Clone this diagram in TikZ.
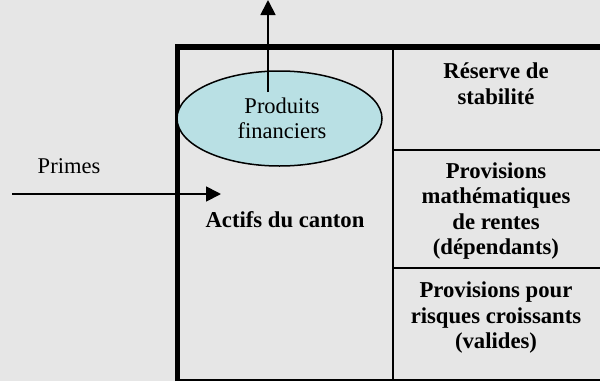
\documentclass[tikz,border=0pt]{standalone}
\usepackage{fontspec}
\setmainfont{Liberation Serif}
\usetikzlibrary{arrows.meta,shapes.geometric}
\definecolor{bgc}{HTML}{E6E6E6}
\definecolor{ellc}{HTML}{B9E0E4}
\tikzset{
  lbl/.style={align=center,font=\fontsize{22.7}{25.5}\selectfont\bfseries,inner sep=0pt},
  plain/.style={align=center,font=\fontsize{22.5}{25.5}\selectfont,inner sep=0pt},
  thickframe/.style={line width=5.5pt},
  thinline/.style={line width=2.2pt},
  flow/.style={line width=1.8pt,-{Triangle[width=15pt,length=15pt]}}
}
\begin{document}
\begin{tikzpicture}[x=1pt,y=-1pt]
\useasboundingbox (0,0) rectangle (600,381);
\fill[bgc] (0,0) rectangle (600,381);
% frame
\draw[thickframe] (177.5,381) -- (177.5,46.8) -- (600,46.8);
\draw[thinline] (177.5,380) -- (600,380);
\draw[thinline] (393,49) -- (393,381);
\draw[thinline] (393,150) -- (600,150);
\draw[thinline] (393,268) -- (600,268);
% ellipse
\node[ellipse,draw,line width=1.5pt,fill=ellc,minimum width=205pt,minimum height=95pt,inner sep=0pt] (pf) at (279.5,118.5) {};
\node[plain] (pft) at (282,118.5) {Produits\\financiers};
% arrows
\coordinate (upS) at (268,92);
\coordinate (upE) at (268,0);
\draw[flow] (upS) -- (upE);
\coordinate (prS) at (12,194);
\coordinate (prE) at (221,194);
\draw[flow] (prS) -- (prE);
\node[plain] (primes) at (69,166) {Primes};
% labels
\node[lbl] (actifs) at (285,220) {Actifs du canton};
\node[lbl] (res) at (496,83.5) {Réserve de\\stabilité};
\node[lbl] (pmr) at (496,211) {Provisions\\mathématiques\\de rentes\\(dépendants)};
\node[lbl] (prc) at (496,318) {Provisions pour\\risques croissants\\(valides)};
\end{tikzpicture}
\end{document}
